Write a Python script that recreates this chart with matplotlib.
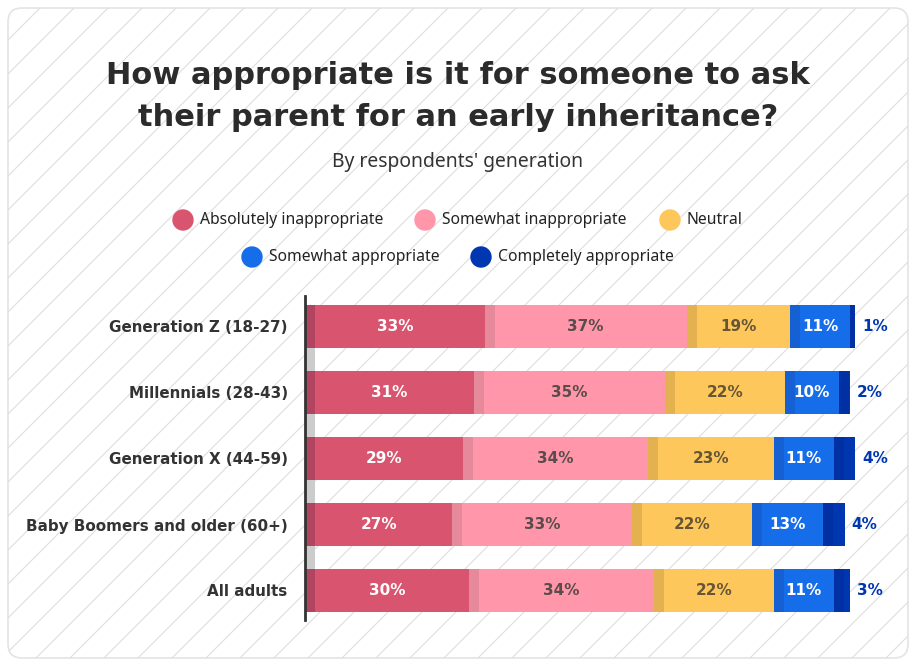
import matplotlib.pyplot as plt
import numpy as np
from matplotlib.patches import FancyBboxPatch, Rectangle, Circle

plt.rcParams["font.family"] = ["Noto Sans", "DejaVu Sans"]
BOLD = ["DejaVu Sans"]

GROUPS = ["Generation Z (18-27)", "Millennials (28-43)", "Generation X (44-59)",
          "Baby Boomers and older (60+)", "All adults"]
SERIES = ["Absolutely inappropriate", "Somewhat inappropriate", "Neutral",
          "Somewhat appropriate", "Completely appropriate"]
ABS_INAPPROPRIATE = [33, 31, 29, 27, 30]
SOME_INAPPROPRIATE = [37, 35, 34, 33, 34]
NEUTRAL = [19, 22, 23, 22, 22]
SOME_APPROPRIATE = [11, 10, 11, 13, 11]
COMPLETELY_APPROPRIATE = [1, 2, 4, 4, 3]

COLORS = ["#D9546F", "#FF96A9", "#FEC75B", "#166DE9", "#0036B0"]
STRIP = ["#B14460", "#E68A9B", "#E3B14F", "#1560D2", "#0030A4"]
TEXT_COL = ["white", "#5a4c4c", "#665635", "white", "#0036B0"]

W, H = 916, 666
fig = plt.figure(figsize=(W / 100, H / 100), dpi=100)
bg = fig.add_axes([0, 0, 1, 1])
bg.set_xlim(0, W)
bg.set_ylim(H, 0)
bg.axis("off")

card = FancyBboxPatch((8, 8), 900, 650, boxstyle="round,pad=0,rounding_size=14",
                      facecolor="white", edgecolor="#e4e4e4", lw=1.2, zorder=0)
bg.add_patch(card)
for c in np.arange(-700, 1700, 34):
    ln, = bg.plot([c, c - 700], [0, 700], color="#dedede", lw=0.8, zorder=1)
    ln.set_clip_path(card)

bg.text(W / 2, 75, "How appropriate is it for someone to ask", ha="center", va="center",
        fontsize=22, fontweight="bold", color="#2b2b2b", family=BOLD)
bg.text(W / 2, 118, "their parent for an early inheritance?", ha="center", va="center",
        fontsize=22, fontweight="bold", color="#2b2b2b", family=BOLD)
bg.text(W / 2, 162, "By respondents' generation", ha="center", va="center",
        fontsize=13.9, color="#333333")

legend_pos = [(183, 220), (425, 220), (670, 220), (252, 257), (481, 257)]
for (lx, ly), name, col in zip(legend_pos, SERIES, COLORS):
    bg.add_patch(Circle((lx, ly), 10, color=col, zorder=3))
    bg.text(lx + 17, ly, name, ha="left", va="center", fontsize=11.3, color="#222222",
            zorder=3)

# main axes: x from 305px to 905px, 5.45 px per percent
px_per = 5.45
ax = fig.add_axes([305 / W, 1 - 620 / H, 600 / W, 324 / H])
ax.set_xlim(0, 600 / px_per)
top = (296 - 326.5) / 66
bot = (620 - 326.5) / 66
ax.set_ylim(bot, top)
ax.patch.set_alpha(0)
for s in ["top", "right", "bottom"]:
    ax.spines[s].set_visible(False)
ax.spines["left"].set_color("#333333")
ax.spines["left"].set_linewidth(2)
ax.set_xticks([])
ax.set_yticks(range(len(GROUPS)))
ax.set_yticklabels(GROUPS, fontsize=10.9, fontweight="bold", color="#333333", family=BOLD)
ax.tick_params(axis="y", length=0, pad=12.5)

bh = 43 / 66
sw = 10 / px_per
data = [ABS_INAPPROPRIATE, SOME_INAPPROPRIATE, NEUTRAL, SOME_APPROPRIATE, COMPLETELY_APPROPRIATE]
y = np.arange(len(GROUPS))
left = np.zeros(len(GROUPS))
for k, vals in enumerate(data):
    vals = np.array(vals, dtype=float)
    ax.barh(y, vals, left=left, height=bh, color=COLORS[k], lw=0)
    ax.barh(y, np.minimum(vals, sw), left=left, height=bh, color=STRIP[k], lw=0)
    for i in range(len(GROUPS)):
        if k < 4:
            ax.text(left[i] + vals[i] / 2, y[i], f"{int(vals[i])}%", ha="center", va="center",
                    fontsize=11, fontweight="bold", color=TEXT_COL[k], family=BOLD)
        else:
            ax.text(left[i] + vals[i] + 7 / px_per, y[i], f"{int(vals[i])}%", ha="left",
                    va="center", fontsize=11, fontweight="bold", color=TEXT_COL[k],
                    family=BOLD)
    left += vals

for i in range(len(GROUPS) - 1):
    ax.add_patch(Rectangle((0, i + bh / 2), sw, 1 - bh, color="#cccccc", lw=0))

fig.savefig("out.png", dpi=100)
